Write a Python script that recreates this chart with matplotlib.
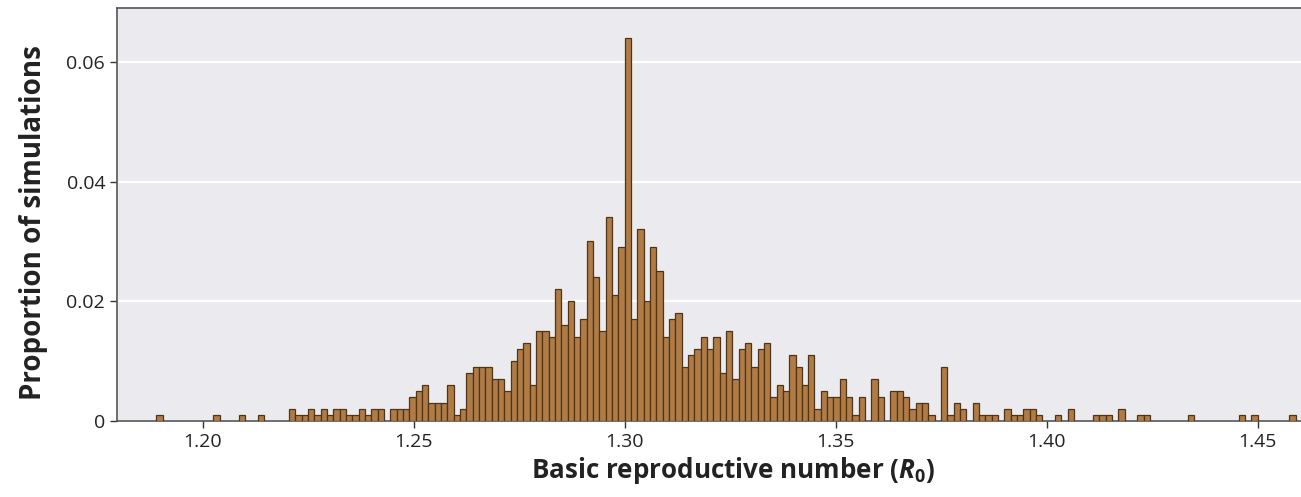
import numpy as np
import matplotlib
matplotlib.use("Agg")
import matplotlib.pyplot as plt

# ---- data ----
n_simulations = 1000
bin_start = 1.189
bin_width = 0.0015
sim_counts = [
    1, 0, 0, 0, 0, 0, 0, 0, 0, 1,     # k0-9
    0, 0, 0, 1, 0, 0, 1, 0, 0, 0,     # k10-19
    0, 2, 1, 1, 2, 1, 2, 1, 2, 2,     # k20-29
    1, 1, 2, 1, 2, 2, 0, 2, 2, 2,     # k30-39
    4, 5, 6, 3, 3, 3, 6, 1, 2, 8,     # k40-49
    9, 9, 9, 7, 7, 5, 10, 12, 13, 6,  # k50-59
    15, 15, 14, 22, 16, 20, 14, 17, 30, 24,  # k60-69
    15, 34, 21, 29, 64, 17, 32, 20, 29, 25,  # k70-79
    14, 17, 18, 9, 11, 12, 14, 12, 14, 8,    # k80-89
    15, 7, 12, 13, 9, 12, 13, 4, 6, 5,       # k90-99
    11, 9, 6, 11, 2, 5, 4, 4, 7, 4,          # k100-109
    1, 4, 0, 7, 4, 0, 5, 5, 4, 2,            # k110-119
    3, 3, 1, 0, 9, 1, 3, 2, 0, 3,            # k120-129
    1, 1, 1, 0, 2, 1, 1, 2, 2, 1,            # k130-139
    0, 0, 1, 0, 2, 0, 0, 0, 1, 1,            # k140-149
    1, 0, 2, 0, 0, 1, 1, 0, 0, 0,            # k150-159
    0, 0, 0, 1, 0, 0, 0, 0, 0, 0,            # k160-169
    0, 1, 0, 1, 0, 0, 0, 0, 0, 1,            # k170-179
]
x_ticks = [1.20, 1.25, 1.30, 1.35, 1.40, 1.45]
y_ticks = [0, 0.02, 0.04, 0.06]
y_tick_labels = ["0", "0.02", "0.04", "0.06"]

proportions = np.array(sim_counts) / n_simulations
bin_lefts = bin_start + bin_width * np.arange(len(sim_counts))

# ---- figure ----
plt.rcParams['font.family'] = ['Open Sans', 'DejaVu Sans']
plt.rcParams['mathtext.fontset'] = 'custom'
plt.rcParams['mathtext.it'] = 'Open Sans:italic:bold'
plt.rcParams['mathtext.rm'] = 'Open Sans:bold'
plt.rcParams['mathtext.bf'] = 'Open Sans:italic:bold'

fig = plt.figure(figsize=(13.01, 4.97), dpi=100)
ax = fig.add_axes([117 / 1301, 1 - 421 / 497, 1 - 117 / 1301, (421 - 8) / 497])
ax.set_facecolor('#EBEBEF')
ax.set_axisbelow(True)
ax.yaxis.grid(True, color='white', linewidth=1.6)
ax.xaxis.grid(False)

mask = proportions > 0
ax.bar(bin_lefts[mask], proportions[mask], width=bin_width, align='edge',
       color='#B07B45', edgecolor='#4E3418', linewidth=0.9, zorder=3)

ax.set_xlim(1.1797, 1.4603)
ax.set_ylim(0, 0.069)
ax.set_xticks(x_ticks)
ax.set_xticklabels([f"{t:.2f}" for t in x_ticks])
ax.set_yticks(y_ticks)
ax.set_yticklabels(y_tick_labels)
ax.tick_params(axis='both', labelsize=14, colors='#333333', length=5, width=1,
               labelcolor='#222222')

for side in ['top', 'left', 'bottom']:
    ax.spines[side].set_color('#555555')
    ax.spines[side].set_linewidth(1.2)
ax.spines['right'].set_visible(False)

ax.set_xlabel(r"Basic reproductive number ($\mathit{R}_{\mathit{0}}$)", fontsize=18.7,
              fontweight='bold', color='#222222')
ax.set_ylabel("Proportion of simulations", fontsize=20, fontweight='bold',
              color='#222222')
ax.xaxis.set_label_coords(0.52, -0.083)
ax.yaxis.set_label_coords(-0.058, 0.481)

fig.savefig("out.png", dpi=100)
